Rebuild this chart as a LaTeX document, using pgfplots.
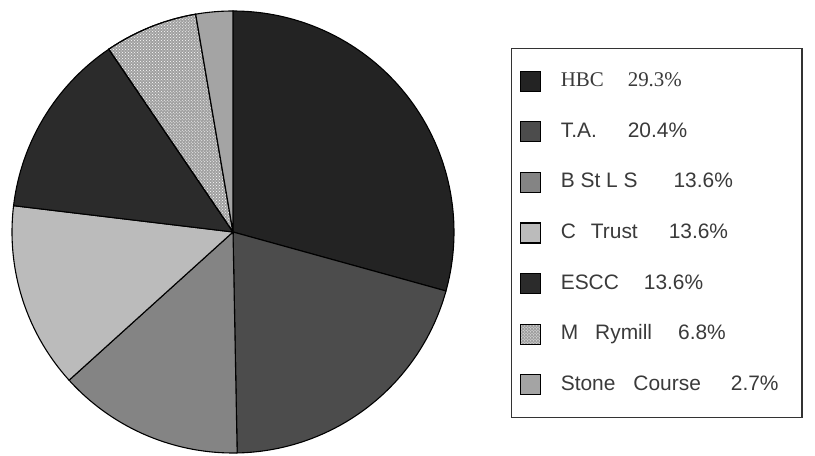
\documentclass[border=0pt]{standalone}
\usepackage{pgfplots}
\pgfplotsset{compat=1.18}
\usepackage{fontspec}
\setmainfont{Liberation Sans}
\newfontfamily\seriffont{Liberation Serif}
\usetikzlibrary{patterns}
% shares (percent)
\def\vA{29.3}\def\vB{20.4}\def\vC{13.6}\def\vD{13.6}\def\vE{13.6}\def\vF{6.8}\def\vG{2.7}
\pgfmathsetmacro\aA{90}
\pgfmathsetmacro\aB{\aA-3.6*\vA}
\pgfmathsetmacro\aC{\aB-3.6*\vB}
\pgfmathsetmacro\aD{\aC-3.6*\vC}
\pgfmathsetmacro\aE{\aD-3.6*\vD}
\pgfmathsetmacro\aF{\aE-3.6*\vE}
\pgfmathsetmacro\aG{\aF-3.6*\vF}
\pgfmathsetmacro\aH{\aG-3.6*\vG}
\def\cx{233}\def\cy{224}\def\rr{221}
\definecolor{cA}{HTML}{232323}
\definecolor{cB}{HTML}{4C4C4C}
\definecolor{cC}{HTML}{848484}
\definecolor{cD}{HTML}{BBBBBB}
\definecolor{cE}{HTML}{2B2B2B}
\definecolor{cF}{HTML}{A0A0A0}
\definecolor{cG}{HTML}{A4A4A4}
\definecolor{txt}{HTML}{3A3A3A}
\begin{document}
\begin{tikzpicture}
\begin{axis}[
  x=1bp, y=1bp, xmin=0, xmax=815, ymin=0, ymax=456,
  hide axis, clip=false,
  samples=80,
  legend image code/.code={\draw[#1] (0bp,-10bp) rectangle (20bp,10bp);},
  legend cell align=left,
  legend style={at={(axis cs:511,408)}, anchor=north west,
    draw=black!80, line width=1.4pt, fill=white,
    inner xsep=8bp, inner ysep=22bp,
    row sep=29.5bp,
    font=\fontsize{21}{22}\selectfont\color{txt},
    nodes={inner sep=2bp, text height=14bp, text depth=3bp},
    /tikz/every odd column/.append style={column sep=18bp}},
]
\path[fill=white] (axis cs:0,0) rectangle (axis cs:815,456);
\addplot[fill=cA, draw=black, line width=1.1pt, variable=\t, domain=\aB:\aA] ({\cx+\rr*cos(\t)},{\cy+\rr*sin(\t)}) -- (axis cs:\cx,\cy) -- cycle;
\addlegendentry{\makebox[231bp][l]{\seriffont HBC\hspace{24bp}29.3\%}}
\addplot[fill=cB, draw=black, line width=1.1pt, variable=\t, domain=\aC:\aB] ({\cx+\rr*cos(\t)},{\cy+\rr*sin(\t)}) -- (axis cs:\cx,\cy) -- cycle;
\addlegendentry{T.A.\hspace{31bp}20.4\%}
\addplot[fill=cC, draw=black, line width=1.1pt, variable=\t, domain=\aD:\aC] ({\cx+\rr*cos(\t)},{\cy+\rr*sin(\t)}) -- (axis cs:\cx,\cy) -- cycle;
\addlegendentry{B St L S\hspace{36bp}13.6\%}
\addplot[fill=cD, draw=black, line width=1.1pt, variable=\t, domain=\aE:\aD] ({\cx+\rr*cos(\t)},{\cy+\rr*sin(\t)}) -- (axis cs:\cx,\cy) -- cycle;
\addlegendentry{C\hspace{15bp}Trust\hspace{31bp}13.6\%}
\addplot[fill=cE, draw=black, line width=1.1pt, variable=\t, domain=\aF:\aE] ({\cx+\rr*cos(\t)},{\cy+\rr*sin(\t)}) -- (axis cs:\cx,\cy) -- cycle;
\addlegendentry{ESCC\hspace{25bp}13.6\%}
\addplot[fill=cF, draw=black, line width=1.1pt, postaction={pattern=crosshatch dots, pattern color=white}, variable=\t, domain=\aG:\aF] ({\cx+\rr*cos(\t)},{\cy+\rr*sin(\t)}) -- (axis cs:\cx,\cy) -- cycle;
\addlegendentry{M\hspace{17bp}Rymill\hspace{26bp}6.8\%}
\addplot[fill=cG, draw=black, line width=1.1pt, variable=\t, domain=\aH:\aG] ({\cx+\rr*cos(\t)},{\cy+\rr*sin(\t)}) -- (axis cs:\cx,\cy) -- cycle;
\addlegendentry{Stone\hspace{18bp}Course\hspace{30bp}2.7\%}
\end{axis}
\end{tikzpicture}
\end{document}
